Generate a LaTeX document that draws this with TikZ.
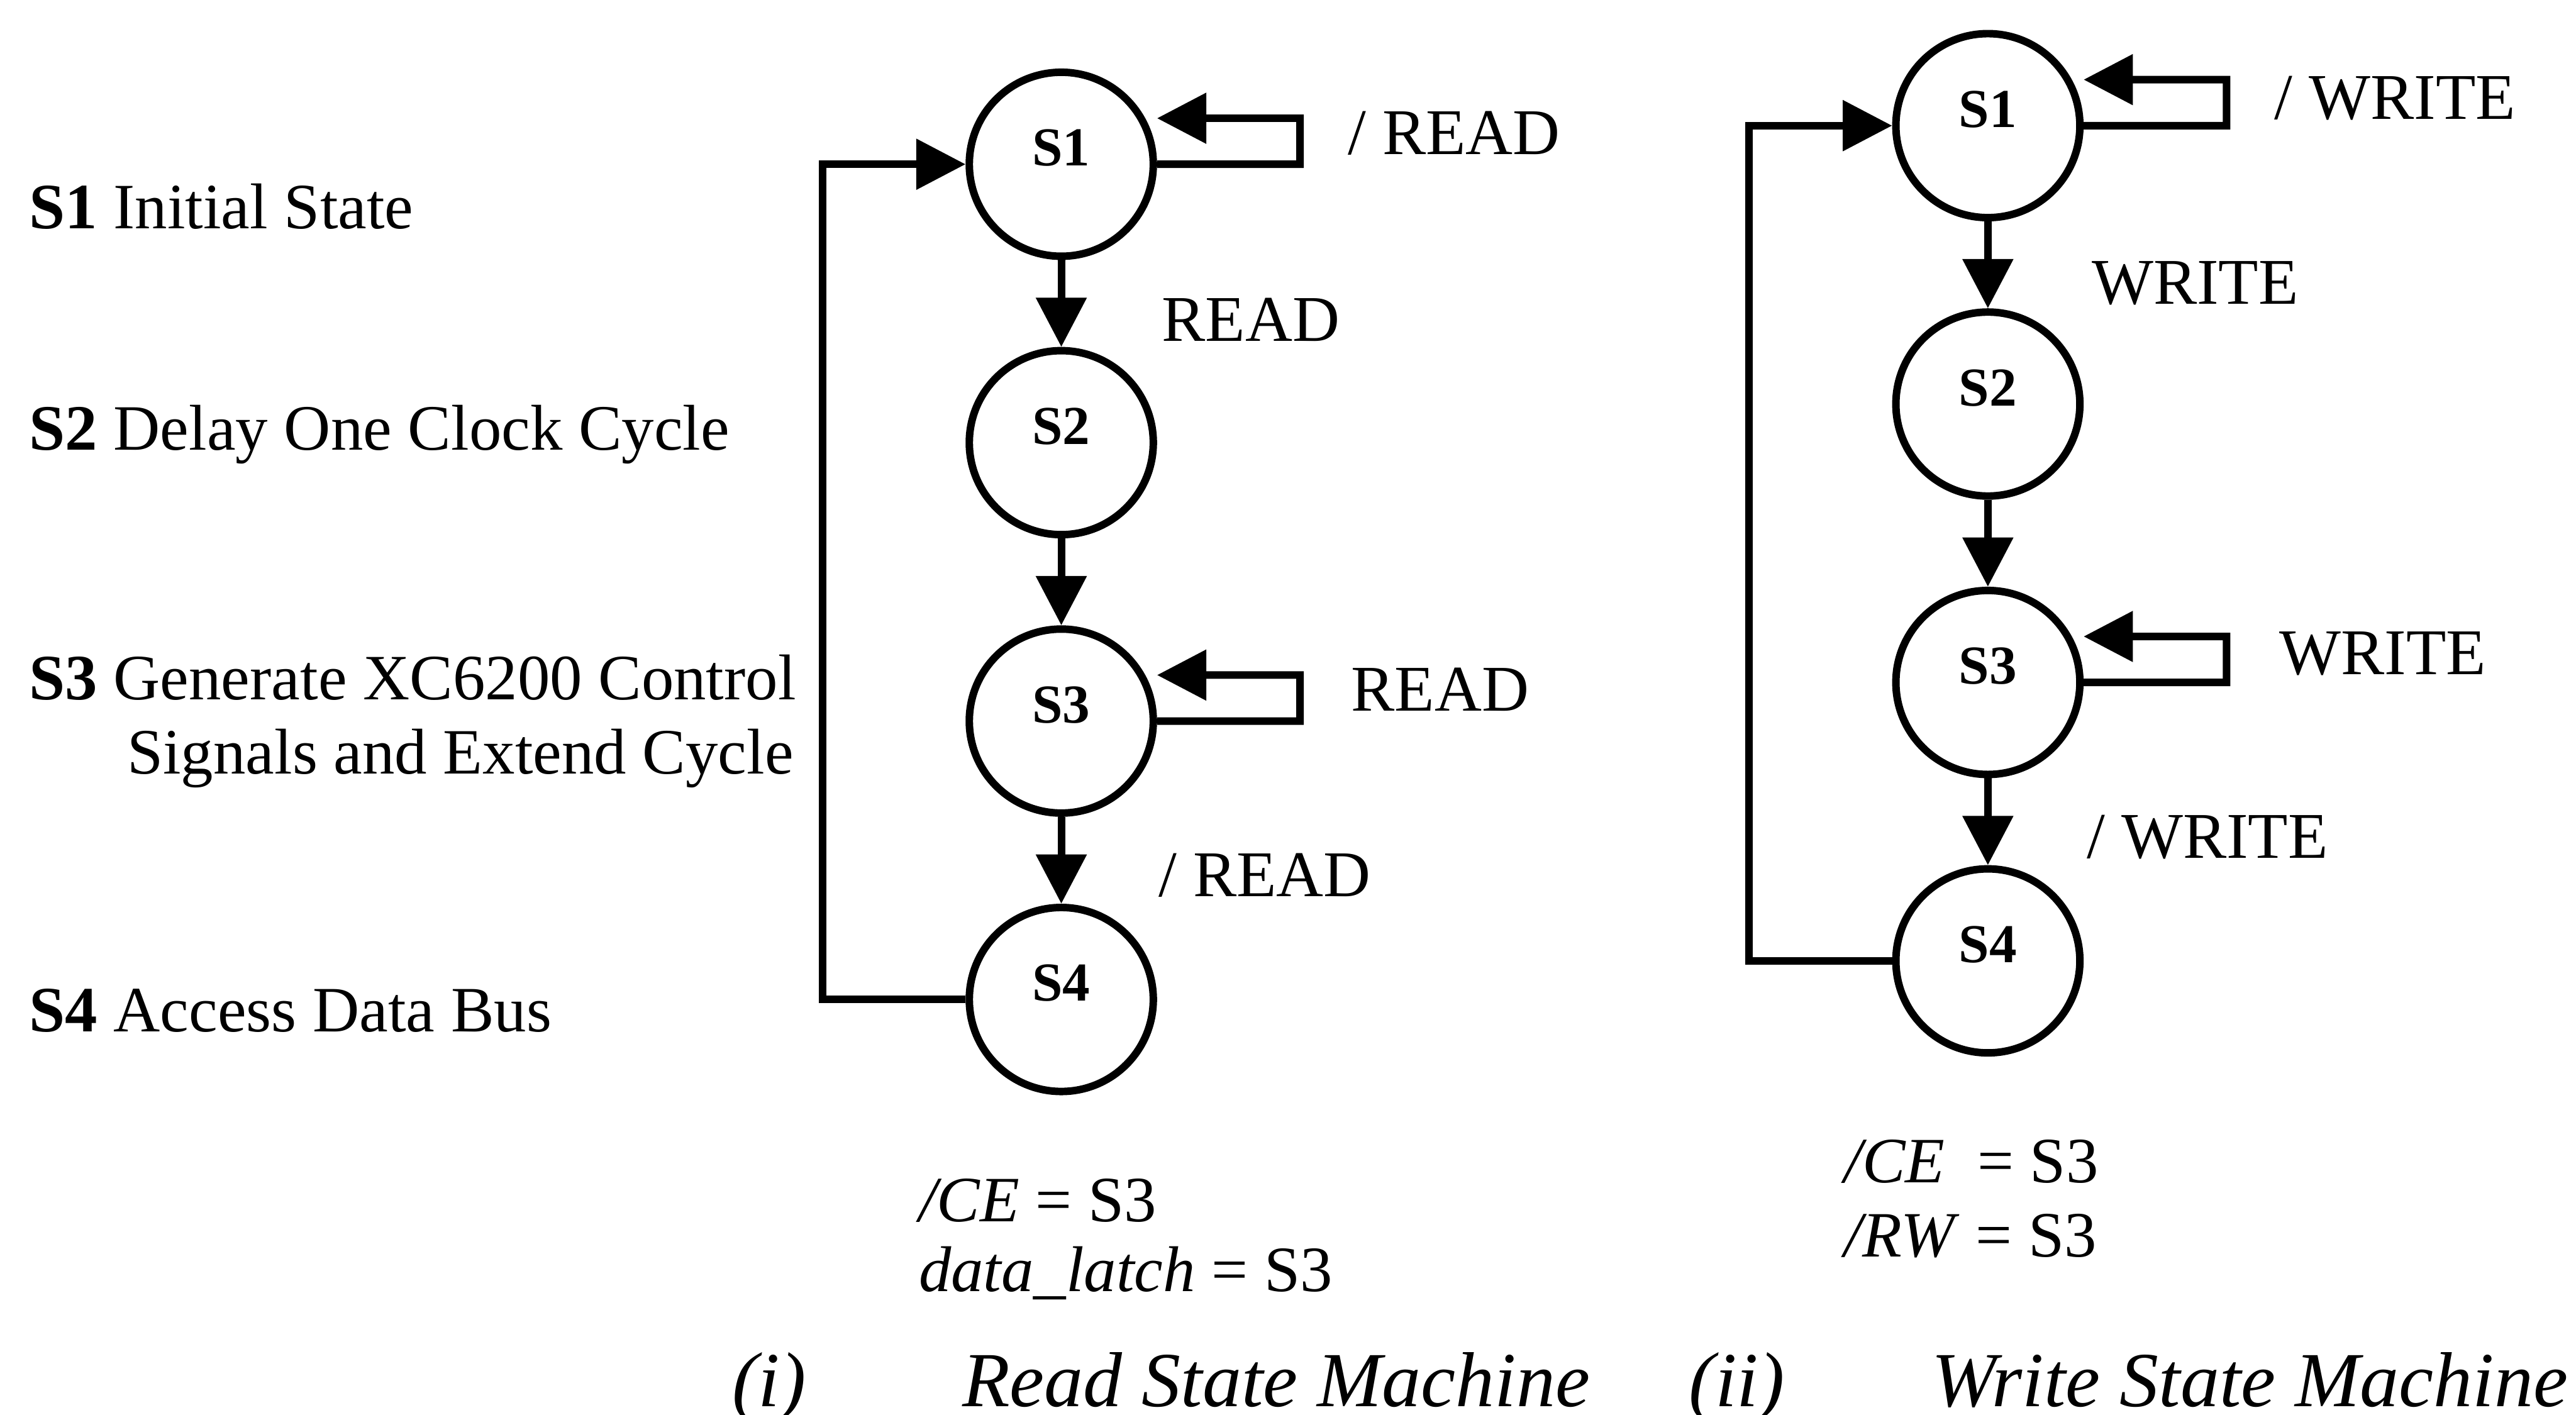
\documentclass[tikz,border=0pt]{standalone}
\usepackage{fontspec}
\setmainfont{Liberation Serif}
\usepackage{tikz}
\usetikzlibrary{arrows.meta, positioning}

\begin{document}
\begin{tikzpicture}[node distance=5.29mm,
  stnode/.style={circle, draw, line width=1.3pt, minimum size=11.2mm, inner sep=0pt,
    text height=2.2mm, text depth=2mm, font=\fontsize{9.5}{11}\selectfont\bfseries},
  lbl/.style={inner sep=0pt, text height=2.6mm, text depth=0pt,
    font=\fontsize{11.3}{13}\selectfont},
  keytext/.style={inner sep=0pt, anchor=base west, font=\fontsize{11.2}{13}\selectfont},
  capt/.style={inner sep=0pt, anchor=base west, font=\fontsize{13.5}{16}\selectfont\itshape},
  arrow/.style={-{Triangle[length=3mm, width=3mm]}, line width=1.3pt}]
  \path[use as bounding box, fill=white] (0,0) rectangle (15.68,8.61);

  % legend
  \node[keytext] (key1) at (0.17,7.218) {\textbf{S1} Initial State};
  \node[keytext] (key2) at (0.17,5.87) {\textbf{S2} Delay One Clock Cycle};
  \node[keytext] (key3) at (0.17,4.35) {\textbf{S3} Generate XC6200 Control};
  \node[keytext] (key3b) at (0.767,3.90) {Signals and Extend Cycle};
  \node[keytext] (key4) at (0.17,2.33) {\textbf{S4} Access Data Bus};

  % read state machine
  \node[stnode] (r1) at (6.46,7.61) {S1};
  \node[stnode, below=of r1] (r2) {S2};
  \node[stnode, below=of r2] (r3) {S3};
  \node[stnode, below=of r3] (r4) {S4};
  \draw[arrow] (r1) -- (r2) node[lbl, midway, right=5.9mm, yshift=-1mm] (rc12) {READ};
  \draw[arrow] (r2) -- (r3);
  \draw[arrow] (r3) -- (r4) node[lbl, midway, right=5.7mm, yshift=-0.9mm] (rc34) {/ READ};
  \draw[arrow] (r1.east) -- ++(0.87,0) -- ++(0,0.28)
    node[lbl, midway, right=2.7mm, yshift=0.5mm] (rc11) {/ READ} -- ([yshift=2.8mm]r1.east);
  \draw[arrow] (r3.east) -- ++(0.87,0) -- ++(0,0.28)
    node[lbl, midway, right=2.9mm, yshift=0.5mm] (rc33) {READ} -- ([yshift=2.8mm]r3.east);
  \draw[arrow] (r4.west) -- ++(-0.87,0) |- (r1.west);
  \node[keytext] (rce) at (5.586,1.175) {\textit{/CE} = S3};
  \node[keytext] (rlatch) at (5.586,0.75) {\textit{data\_latch} = S3};

  % write state machine
  \node[stnode] (w1) at (12.10,7.845) {S1};
  \node[stnode, below=of w1] (w2) {S2};
  \node[stnode, below=of w2] (w3) {S3};
  \node[stnode, below=of w3] (w4) {S4};
  \draw[arrow] (w1) -- (w2) node[lbl, midway, right=6.1mm, yshift=-1.1mm] (wc12) {WRITE};
  \draw[arrow] (w2) -- (w3);
  \draw[arrow] (w3) -- (w4) node[lbl, midway, right=5.8mm, yshift=-0.9mm] (wc34) {/ WRITE};
  \draw[arrow] (w1.east) -- ++(0.87,0) -- ++(0,0.28)
    node[lbl, midway, right=2.7mm, yshift=0.3mm] (wc11) {/ WRITE} -- ([yshift=2.8mm]w1.east);
  \draw[arrow] (w3.east) -- ++(0.87,0) -- ++(0,0.28)
    node[lbl, midway, right=3mm, yshift=0.4mm] (wc33) {WRITE} -- ([yshift=2.8mm]w3.east);
  \draw[arrow] (w4.west) -- ++(-0.87,0) |- (w1.west);
  \node[keytext] (wce) at (11.22,1.41) {\textit{/CE}\ \ = S3};
  \node[keytext] (wrw) at (11.22,0.96) {\textit{/RW} = S3};

  % captions
  \node[capt] (rnum) at (4.45,0.05) {(i)};
  \node[capt] (rcap) at (5.85,0.05) {Read State Machine};
  \node[capt] (wnum) at (10.275,0.05) {(ii)};
  \node[capt] (wcap) at (11.75,0.05) {Write State Machine};
\end{tikzpicture}
\end{document}
